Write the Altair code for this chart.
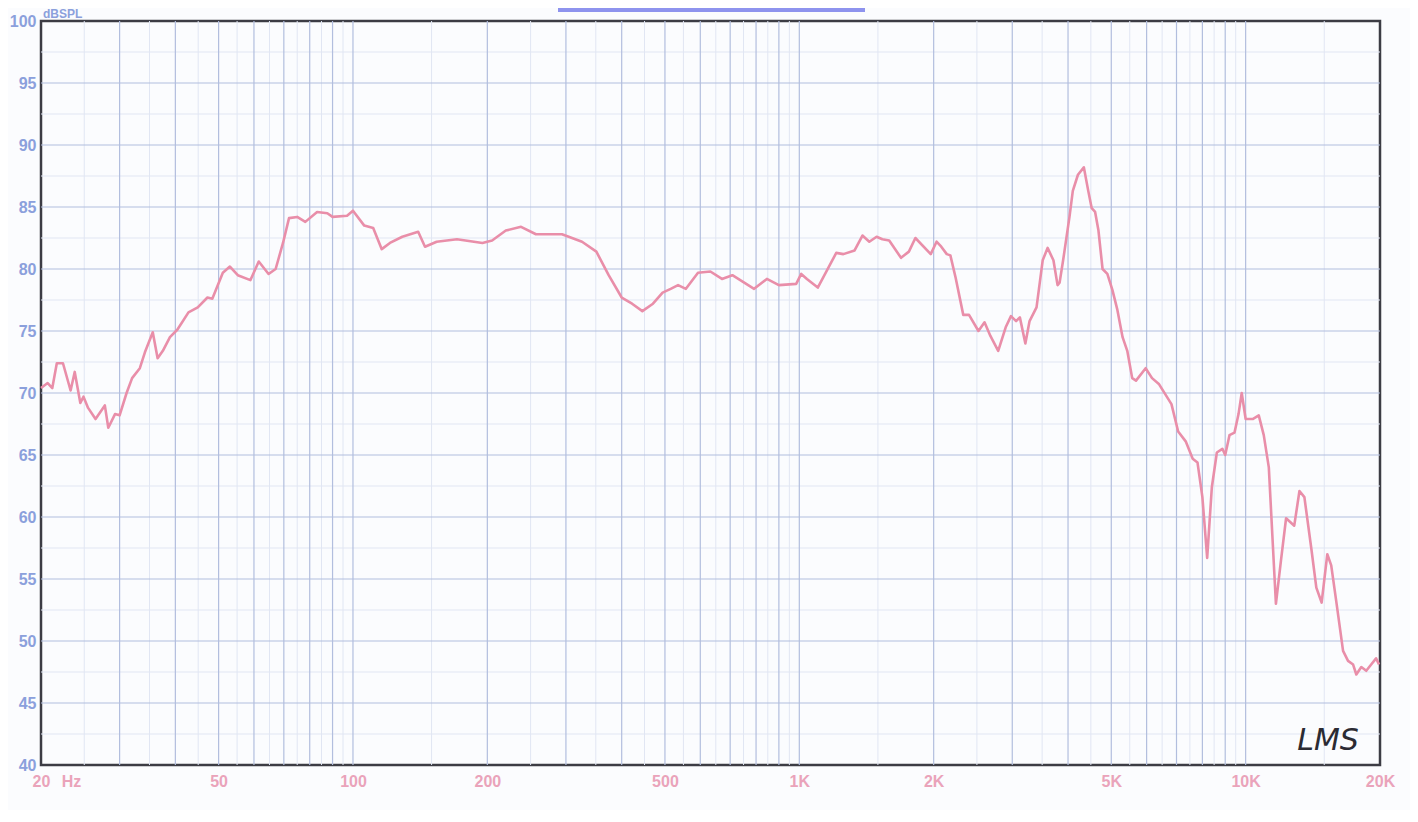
import altair as alt
import pandas as pd

# ---- data ----
freq = [20, 20.7, 21.2, 21.7, 22.4, 23.3, 23.8, 24.5, 24.9, 25.5, 26.5, 27.8, 28.3, 29.3, 30,
        31.1, 32.0, 33.3, 34.2, 35.6, 36.5, 37.5, 38.9, 40.4, 42.8, 44.9, 47.2, 48.4, 51.1, 53.0,
        55.2, 58.9, 61.5, 64.7, 67.1, 69.7, 71.9, 75.0, 78.2, 83.1, 87.6, 90, 97, 100, 106, 111,
        116, 121, 129, 140, 145, 154, 171, 195, 205, 220, 238, 257, 294, 326, 351, 374, 400, 422,
        445, 470, 494, 515, 535, 557, 593, 632, 671, 708, 792, 846, 900, 984, 1010, 1040, 1100,
        1210, 1255, 1330, 1385, 1435, 1490, 1535, 1590, 1690, 1760, 1820, 1970, 2030, 2080, 2140,
        2180, 2240, 2330, 2400, 2520, 2600, 2680, 2790, 2900, 2980, 3060, 3120, 3210, 3280, 3400,
        3510, 3600, 3710, 3790, 3830, 3900, 4030, 4100, 4210, 4340, 4440, 4520, 4600, 4680, 4780,
        4900, 5030, 5160, 5300, 5430, 5570, 5680, 5970, 6170, 6400, 6820, 7060, 7340, 7610, 7800,
        8000, 8200, 8400, 8620, 8870, 9000, 9200, 9440, 9640, 9800, 10000, 10370, 10700, 10980,
        11270, 11690, 12000, 12320, 12850, 13200, 13540, 14040, 14400, 14800, 15240, 15550, 15960,
        16530, 16960, 17410, 17700, 18160, 18630, 19110, 19600, 19900]
spl = [70.4, 70.8, 70.4, 72.4, 72.4, 70.2, 71.7, 69.2, 69.7, 68.8, 67.9, 69.0, 67.2, 68.3, 68.2,
       70.0, 71.2, 72.0, 73.3, 74.9, 72.8, 73.4, 74.5, 75.1, 76.5, 76.9, 77.7, 77.6, 79.7, 80.2,
       79.5, 79.1, 80.6, 79.6, 80.0, 82.1, 84.1, 84.2, 83.8, 84.6, 84.5, 84.2, 84.3, 84.7, 83.5, 83.3,
       81.6, 82.1, 82.6, 83.0, 81.8, 82.2, 82.4, 82.1, 82.3, 83.1, 83.4, 82.8, 82.8, 82.2, 81.4, 79.5, 77.7, 77.2,
       76.6, 77.2, 78.1, 78.4, 78.7, 78.4, 79.7, 79.8, 79.2, 79.5, 78.4, 79.2, 78.7, 78.8, 79.6, 79.2, 78.5,
       81.3, 81.2, 81.5, 82.7, 82.2, 82.6, 82.4, 82.3, 80.9, 81.4, 82.5, 81.2, 82.2, 81.8, 81.2,
       81.1, 79.3, 76.3, 76.3, 75.0, 75.7, 74.6, 73.4, 75.3, 76.2, 75.8, 76.1, 74.0, 75.8, 76.9,
       80.7, 81.7, 80.7, 78.7, 78.9, 80.7, 84.2, 86.3, 87.6, 88.2, 86.3, 84.9, 84.6, 83.1, 80.0,
       79.6, 78.3, 76.7, 74.5, 73.4, 71.2, 71.0, 72.0, 71.2, 70.7, 69.1, 66.9, 66.1, 64.7, 64.4,
       61.6, 56.7, 62.4, 65.2, 65.5, 65.0, 66.6, 66.8, 68.3, 70.0, 67.9, 67.9, 68.2, 66.6,
       64.0, 53.0, 56.5, 59.9, 59.3, 62.1, 61.6, 57.4, 54.3, 53.1, 57.0, 56.1, 53.2,
       49.2, 48.4, 48.1, 47.3, 47.9, 47.6, 48.1, 48.6, 48.1]

x_ticks = [20, 50, 100, 200, 500, 1000, 2000, 5000, 10000, 20000]
y_ticks = [40, 45, 50, 55, 60, 65, 70, 75, 80, 85, 90, 95, 100]
major_x = [30, 40, 50, 60, 70, 80, 90, 100, 200, 300, 400, 500, 600, 700, 800, 900,
           1000, 2000, 3000, 4000, 5000, 6000, 7000, 8000, 9000, 10000]
minor_x = [25, 35, 45, 55, 65, 75, 85, 95, 150, 250, 350, 450, 550, 650, 750, 850, 950,
           1500, 2500, 3500, 4500, 5500, 6500, 7500, 8500, 9500, 15000]
major_y = [45, 50, 55, 60, 65, 70, 75, 80, 85, 90, 95]
minor_y = [42.5, 47.5, 52.5, 57.5, 62.5, 67.5, 72.5, 77.5, 82.5, 87.5, 92.5, 97.5]

df = pd.DataFrame({"f": freq, "db": spl})

xscale = alt.Scale(type="log", domain=[20, 20000], nice=False)
yscale = alt.Scale(domain=[40, 100], nice=False, zero=False)

grid_major = "#b2bede"
grid_minor = "#e1e6f3"
blue_lbl = "#8ba0dc"
pink_lbl = "#eaa3ba"
curve_col = "#e98ea9"

xaxis = alt.Axis(values=x_ticks, grid=False, ticks=False, domain=False,
                 labelColor=pink_lbl, labelFont="Liberation Sans", labelFontSize=16,
                 labelFontWeight="bold", labelPadding=8, labelFlush=False,
                 labelOverlap=False, title=None,
                 labelExpr="datum.value >= 1000 ? format(datum.value/1000, 'd') + 'K' : format(datum.value, 'd')")
yaxis = alt.Axis(values=y_ticks, grid=False, ticks=False, domain=False,
                 labelColor=blue_lbl, labelFont="Liberation Sans", labelFontSize=16,
                 labelFontWeight="bold", labelPadding=5, labelFlush=False,
                 labelOverlap=False, title=None)

X = lambda: alt.X("f:Q", scale=xscale, axis=xaxis, title=None)
Y = lambda: alt.Y("db:Q", scale=yscale, axis=yaxis, title=None)

vminor = alt.Chart(pd.DataFrame({"f": minor_x})).mark_rule(color=grid_minor, strokeWidth=1).encode(x=X())
vmajor = alt.Chart(pd.DataFrame({"f": major_x})).mark_rule(color=grid_major, strokeWidth=1.2).encode(x=X())
hminor = alt.Chart(pd.DataFrame({"db": minor_y})).mark_rule(color=grid_minor, strokeWidth=1).encode(y=Y())
hmajor = alt.Chart(pd.DataFrame({"db": major_y})).mark_rule(color=grid_major, strokeWidth=1.2).encode(y=Y())

line = alt.Chart(df).mark_line(color=curve_col, strokeWidth=2.6, strokeJoin="round").encode(x=X(), y=Y())

hz = alt.Chart(pd.DataFrame({"f": [23.4], "db": [40], "t": ["Hz"]})).mark_text(
    color=pink_lbl, font="Liberation Sans", fontSize=16, fontWeight="bold", dy=17, baseline="middle"
).encode(x=X(), y=Y(), text="t:N")

lms = alt.Chart(pd.DataFrame({"f": [15300], "db": [41.9], "t": ["LMS"]})).mark_text(
    color="#2b2b33", font="DejaVu Sans", fontSize=30, fontStyle="italic", fontWeight="normal",
    baseline="middle"
).encode(x=X(), y=Y(), text="t:N")

dbspl = alt.Chart(pd.DataFrame({"t": ["dBSPL"]})).mark_text(
    color=blue_lbl, font="Liberation Sans", fontSize=12, fontWeight="bold", align="left",
    baseline="top"
).encode(x=alt.value(2), y=alt.value(-12), text="t:N")

bar = alt.Chart(pd.DataFrame({"a": [0]})).mark_rect(color="#8e93ee").encode(
    x=alt.value(517), x2=alt.value(824), y=alt.value(-14), y2=alt.value(-9))

chart = alt.layer(vminor, hminor, vmajor, hmajor, line, hz, lms, dbspl, bar).properties(
    width=1339, height=744,
    autosize=alt.AutoSizeParams(type="none"),
    padding={"left": 33, "top": 13, "right": 30, "bottom": 45},
    background="#fbfcfe",
).configure_view(stroke="#3c3c44", strokeWidth=2.5)

chart.save("out.html", embed_options={"renderer": "svg", "actions": False})
